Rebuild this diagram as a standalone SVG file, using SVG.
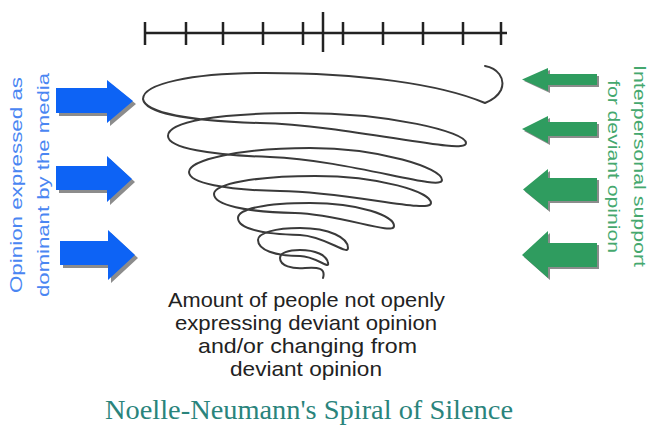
<svg xmlns="http://www.w3.org/2000/svg" width="649" height="428" viewBox="0 0 649 428">
<style>
.bar{stroke:#222;stroke-width:2.5;fill:none}
.blue{fill:#0d63f5}
.green{fill:#2f9c5f}
.shadow{fill:#8c8c8c}
.spiral{fill:none;stroke:#3a3a3a;stroke-width:2;stroke-linejoin:round;stroke-linecap:round}
.side{font-family:"Liberation Sans",Arial,sans-serif;font-size:16px}
.lt{fill:#4a86f2}
.rt{fill:#45a86e}
.cap{font-family:"Liberation Sans",Arial,sans-serif;font-size:21px;fill:#222;text-anchor:middle}
.title{font-family:"Liberation Serif","Times New Roman",serif;font-size:27px;fill:#2a847c;text-anchor:middle}
</style>
<rect width="649" height="428" fill="#fff"/>

<g id="scale">
<line class="bar" x1="145" y1="33" x2="507" y2="33"/>
<path class="bar" d="M145,22V45M186,22V45M223,22V45M263,22V45M303,22V45M343,22V45M383,22V45M423,22V45M463,22V45M501,22V45"/>
<line class="bar" x1="323" y1="12" x2="323" y2="52" stroke-width="3"/>
</g>

<g id="spiral">
<path class="spiral" d="M485,66 C497,68 506,78 501,90 C497,98 490,101 485,103
C440,84 360,73 265,73 C190,73 143,84 143,99
C145,113 190,121 260,123 C350,125 466,156 466,143
C466,132 390,113 300,113 C215,113 168,122 168,136
C168,148 210,155 270,157 C350,160 442,192 442,180
C442,168 380,148 310,148 C240,148 189,160 189,172
C189,183 225,190 280,191 C350,192 431,214 431,203
C431,192 380,176 315,176 C255,176 214,184 214,194
C214,205 245,212 295,213 C340,214 394,236 394,226
C394,216 360,203 310,203 C265,203 238,209 238,218
C238,228 260,234 300,235 C325,236 348,256 348,248
C348,238 330,228 300,228 C275,228 258,233 258,240
C258,250 275,256 300,256 C315,256 330,270 328,263
C327,255 315,250 300,250 C288,250 280,253 280,258
C280,266 292,269 305,268 C318,267 326,268 323,278"/>
</g>

<g id="media-arrows">
<polygon class="shadow" points="59,91 110,91 110,83 136,104 110,126 110,116 59,116"/>
<polygon class="blue" points="56,88 107,88 107,80 133,101 107,123 107,113 56,113"/>
<polygon class="shadow" points="59,169 110,169 110,159 135,182 110,205 110,193 59,193"/>
<polygon class="blue" points="56,166 107,166 107,156 132,179 107,202 107,190 56,190"/>
<polygon class="shadow" points="63,244 111,244 111,233 138,258 111,283 111,268 63,268"/>
<polygon class="blue" points="60,241 108,241 108,230 135,255 108,280 108,265 60,265"/>
</g>

<g id="support-arrows">
<polygon class="shadow" points="524,81 550,70 550,76 599,76 599,87 550,87 550,93"/>
<polygon class="green" points="522,79.5 548,68 548,74 597,74 597,85 548,85 548,91"/>
<polygon class="shadow" points="524,131 550,118 550,124 599,124 599,138 550,138 550,145"/>
<polygon class="green" points="522,129 548,116 548,122 597,122 597,136 548,136 548,143"/>
<polygon class="shadow" points="525,191.5 550,171 550,180 599,180 599,203 550,203 550,212"/>
<polygon class="green" points="523,189.5 548,169 548,178 597,178 597,201 548,201 548,210"/>
<polygon class="shadow" points="524,257 550,233 550,245 599,245 599,269 550,269 550,280"/>
<polygon class="green" points="522,255 548,231 548,243 597,243 597,267 548,267 548,278"/>
</g>

<g id="media-label">
<text class="side lt" transform="translate(22,185) rotate(-90)" text-anchor="middle" textLength="216" lengthAdjust="spacingAndGlyphs">Opinion expressed as</text>
<text class="side lt" transform="translate(49,185) rotate(-90)" text-anchor="middle" textLength="224" lengthAdjust="spacingAndGlyphs">dominant by the media</text>
</g>

<g id="support-label">
<text class="side rt" font-size="17" transform="translate(634,166) rotate(90)" text-anchor="middle" textLength="202" lengthAdjust="spacingAndGlyphs">Interpersonal support</text>
<text class="side rt" font-size="17" transform="translate(607.5,166.5) rotate(90)" text-anchor="middle" textLength="173" lengthAdjust="spacingAndGlyphs">for deviant opinion</text>
</g>

<g id="caption">
<text class="cap" x="306.5" y="307" textLength="277" lengthAdjust="spacingAndGlyphs">Amount of people not openly</text>
<text class="cap" x="306" y="330" textLength="262" lengthAdjust="spacingAndGlyphs">expressing deviant opinion</text>
<text class="cap" x="307.5" y="353" textLength="219" lengthAdjust="spacingAndGlyphs">and/or changing from</text>
<text class="cap" x="306" y="376" textLength="152" lengthAdjust="spacingAndGlyphs">deviant opinion</text>
</g>

<g id="title">
<text class="title" x="309" y="419" textLength="408" lengthAdjust="spacingAndGlyphs">Noelle-Neumann's Spiral of Silence</text>
</g>
</svg>
